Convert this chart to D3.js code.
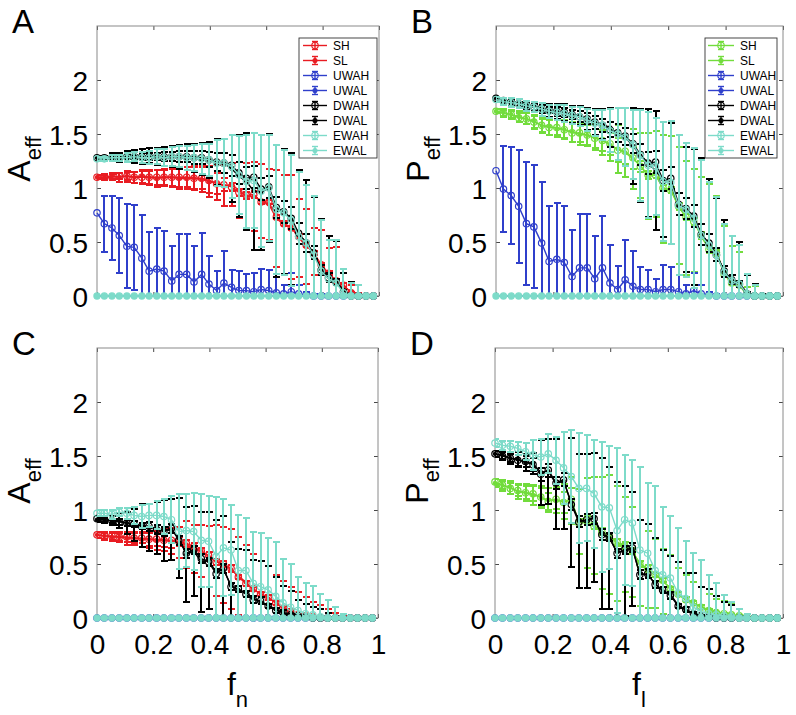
<!DOCTYPE html>
<html><head><meta charset="utf-8">
<script src="https://cdn.jsdelivr.net/npm/d3@7"></script>
<style>
body{margin:0;background:#fff}
svg{display:block}
text{font-family:"Liberation Sans",Arial,Helvetica,sans-serif;fill:#000}
</style>
</head><body>
<svg id="chart" width="796" height="715"></svg>
<script>
// ---------- shared x grid and ticks ----------
const fx = [0,0.026,0.053,0.079,0.106,0.132,0.159,0.185,0.212,0.238,0.265,0.291,0.318,0.344,0.371,0.397,0.424,0.450,0.477,0.503,0.530,0.556,0.582,0.609,0.636,0.662,0.689,0.715,0.742,0.768,0.795,0.821,0.848,0.874,0.901,0.927,0.954,0.980];
const zeros = [0,0,0,0,0,0,0,0,0,0,0,0,0,0,0,0,0,0,0,0,0,0,0,0,0,0,0,0,0,0,0,0,0,0,0,0,0,0];
const yTicks = [0,0.5,1,1.5,2];
const yTickLabels = ["0","0.5","1","1.5","2"];
const xTicks = [0,0.2,0.4,0.6,0.8,1];
const xTickLabels = ["0","0.2","0.4","0.6","0.8","1"];
const seriesNames = ["SH","SL","UWAH","UWAL","DWAH","DWAL","EWAH","EWAL"];

// ---------- Panel A (A_eff vs f_n) ----------
const A_SH     = [1.10,1.10,1.10,1.11,1.11,1.10,1.10,1.10,1.10,1.10,1.10,1.10,1.10,1.09,1.09,1.07,1.04,1.03,1.01,0.96,0.93,0.94,0.87,0.87,0.73,0.67,0.63,0.55,0.47,0.40,0.29,0.21,0.14,0.10,0.03,0,0,0];
const A_SH_err = [0.02,0.02,0.03,0.03,0.04,0.05,0.06,0.06,0.07,0.07,0.08,0.09,0.09,0.10,0.10,0.12,0.10,0.06,0.04,0.03,0.03,0.03,0.02,0.02,0.02,0.02,0.02,0.02,0.02,0.02,0.02,0.02,0.02,0.02,0.01,0,0,0];
const A_SL     = [1.10,1.10,1.11,1.10,1.11,1.10,1.11,1.10,1.09,1.10,1.10,1.09,1.09,1.09,1.08,1.06,1.05,1.02,1.03,0.98,0.92,0.92,0.88,0.85,0.72,0.66,0.64,0.54,0.46,0.41,0.28,0.20,0.15,0.09,0.04,0.01,0,0];
const A_SL_err = [0.02,0.03,0.03,0.04,0.05,0.05,0.06,0.07,0.08,0.08,0.09,0.10,0.10,0.11,0.12,0.14,0.16,0.19,0.20,0.26,0.31,0.32,0.34,0.33,0.45,0.46,0.48,0.36,0.35,0.22,0.33,0.24,0.30,0.12,0.06,0.02,0,0];
const A_UWAH     = [0.77,0.67,0.63,0.56,0.46,0.45,0.35,0.23,0.25,0.23,0.14,0.20,0.20,0.13,0.20,0.11,0.05,0.12,0.08,0.05,0.05,0.04,0.06,0.05,0.03,0.02,0.04,0.02,0.01,0,0,0,0,0,0,0,0,0];
const A_UWAH_err = [0,0.26,0.30,0.35,0.39,0.39,0.40,0.36,0.38,0.37,0.32,0.37,0.37,0.33,0.38,0.26,0.18,0.30,0.16,0.18,0.15,0.17,0.19,0.19,0.15,0.08,0.17,0.08,0.03,0.02,0.02,0,0,0,0,0,0,0];
const A_DWAH     = [1.28,1.28,1.28,1.29,1.29,1.29,1.29,1.29,1.29,1.29,1.29,1.29,1.29,1.28,1.28,1.26,1.24,1.23,1.21,1.14,1.09,1.10,0.99,1.01,0.82,0.78,0.72,0.58,0.49,0.40,0.24,0.17,0.13,0.04,0,0,0,0];
const A_DWAH_err = [0.01,0.01,0.01,0.02,0.02,0.02,0.03,0.03,0.03,0.04,0.04,0.05,0.05,0.06,0.06,0.07,0.08,0.09,0.10,0.10,0.10,0.10,0.10,0.10,0.10,0.10,0.10,0.10,0.08,0.06,0.05,0.04,0.03,0.02,0,0,0,0];
const A_DWAL     = [1.28,1.28,1.29,1.28,1.29,1.29,1.29,1.30,1.29,1.29,1.29,1.29,1.29,1.28,1.27,1.26,1.24,1.23,1.18,1.11,1.06,0.97,0.96,1.00,0.79,0.78,0.71,0.57,0.50,0.39,0.25,0.18,0.14,0.05,0.01,0,0,0];
const A_DWAL_err = [0.02,0.02,0.03,0.04,0.05,0.06,0.07,0.07,0.08,0.09,0.10,0.11,0.12,0.13,0.15,0.17,0.21,0.22,0.31,0.38,0.45,0.54,0.53,0.50,0.61,0.58,0.61,0.60,0.57,0.53,0.46,0.38,0.37,0.16,0.12,0.02,0,0];
const A_EWAH     = [1.27,1.27,1.28,1.28,1.28,1.29,1.28,1.28,1.29,1.28,1.29,1.29,1.28,1.28,1.27,1.26,1.23,1.23,1.20,1.12,1.06,1.07,0.97,1.00,0.80,0.77,0.70,0.55,0.49,0.38,0.23,0.16,0.12,0.03,0,0,0,0];
const A_EWAH_err = [0.02,0.02,0.03,0.03,0.04,0.04,0.05,0.06,0.07,0.08,0.09,0.10,0.11,0.12,0.14,0.15,0.21,0.22,0.29,0.36,0.43,0.44,0.52,0.49,0.60,0.58,0.61,0.60,0.54,0.55,0.47,0.36,0.40,0.22,0.12,0.10,0,0];

// ---------- Panel B (P_eff vs f_n) ----------
const B_SH     = [1.71,1.69,1.68,1.65,1.64,1.61,1.58,1.56,1.56,1.54,1.51,1.51,1.49,1.46,1.44,1.41,1.35,1.34,1.28,1.20,1.12,1.12,1.00,0.98,0.83,0.73,0.69,0.56,0.43,0.40,0.20,0.12,0.10,0.01,0,0,0,0];
const B_SH_err = [0.02,0.03,0.03,0.04,0.05,0.06,0.06,0.07,0.07,0.08,0.08,0.08,0.09,0.09,0.10,0.10,0.11,0.12,0.10,0.05,0.04,0.03,0.03,0.03,0.03,0.03,0.03,0.03,0.03,0.03,0.02,0.02,0.02,0.01,0,0,0,0];
const B_SL     = [1.71,1.70,1.68,1.66,1.64,1.62,1.58,1.57,1.55,1.54,1.52,1.50,1.49,1.47,1.44,1.40,1.36,1.33,1.27,1.21,1.11,1.13,0.99,0.98,0.84,0.72,0.70,0.55,0.44,0.41,0.21,0.12,0.11,0.02,0.01,0,0,0];
const B_SL_err = [0.02,0.03,0.04,0.05,0.05,0.06,0.07,0.08,0.08,0.09,0.09,0.10,0.10,0.12,0.13,0.15,0.22,0.23,0.28,0.30,0.40,0.40,0.50,0.50,0.54,0.53,0.48,0.55,0.60,0.52,0.44,0.34,0.30,0.06,0.08,0,0,0];
const B_UWAH     = [1.16,0.99,0.93,0.83,0.67,0.64,0.49,0.32,0.34,0.31,0.18,0.26,0.26,0.16,0.26,0.12,0.06,0.15,0.09,0.06,0.06,0.04,0.06,0.06,0.04,0.02,0.05,0.02,0.01,0,0,0,0,0,0,0,0,0];
const B_UWAH_err = [0,0.40,0.45,0.52,0.57,0.57,0.57,0.51,0.52,0.52,0.43,0.50,0.50,0.40,0.48,0.35,0.22,0.37,0.33,0.21,0.18,0.12,0.23,0.21,0.15,0.08,0.16,0.08,0.03,0.02,0.01,0,0,0,0,0,0,0];
const B_DWAH     = [1.83,1.81,1.80,1.78,1.77,1.75,1.74,1.72,1.71,1.70,1.68,1.66,1.64,1.61,1.58,1.54,1.51,1.48,1.41,1.31,1.23,1.24,1.07,1.09,0.85,0.81,0.74,0.57,0.49,0.38,0.23,0.15,0.11,0.02,0,0,0,0];
const B_DWAH_err = [0.01,0.01,0.02,0.02,0.02,0.03,0.03,0.03,0.04,0.04,0.04,0.05,0.05,0.06,0.06,0.07,0.08,0.08,0.09,0.10,0.10,0.10,0.10,0.10,0.10,0.10,0.10,0.10,0.08,0.06,0.05,0.04,0.03,0.02,0,0,0,0];
const B_DWAL     = [1.83,1.81,1.80,1.79,1.77,1.76,1.74,1.72,1.71,1.70,1.68,1.67,1.64,1.61,1.59,1.56,1.50,1.47,1.39,1.30,1.23,1.16,1.08,1.04,0.84,0.80,0.73,0.58,0.48,0.39,0.23,0.15,0.12,0.03,0.01,0,0,0];
const B_DWAL_err = [0.01,0.02,0.03,0.03,0.04,0.04,0.05,0.06,0.07,0.08,0.08,0.09,0.10,0.12,0.14,0.18,0.24,0.27,0.35,0.43,0.50,0.55,0.53,0.56,0.65,0.58,0.63,0.70,0.60,0.52,0.47,0.41,0.38,0.16,0.10,0.02,0,0];
const B_EWAH     = [1.82,1.80,1.79,1.78,1.76,1.75,1.73,1.71,1.70,1.69,1.67,1.66,1.63,1.60,1.58,1.53,1.50,1.47,1.40,1.30,1.21,1.20,1.06,1.05,0.84,0.80,0.72,0.56,0.47,0.38,0.22,0.14,0.11,0.02,0,0,0,0];
const B_EWAH_err = [0.02,0.03,0.04,0.04,0.05,0.05,0.06,0.06,0.07,0.08,0.08,0.09,0.10,0.12,0.14,0.20,0.24,0.27,0.32,0.42,0.49,0.45,0.55,0.57,0.65,0.62,0.65,0.70,0.59,0.54,0.45,0.42,0.36,0.18,0.10,0,0,0];

// ---------- Panel C (A_eff vs f_n) ----------
const C_SH     = [0.77,0.76,0.76,0.75,0.75,0.74,0.74,0.73,0.73,0.72,0.72,0.71,0.69,0.66,0.62,0.58,0.52,0.50,0.46,0.38,0.32,0.27,0.22,0.19,0.14,0.09,0.06,0.03,0.02,0.01,0,0,0,0,0,0,0,0];
const C_SH_err = [0.03,0.03,0.04,0.04,0.05,0.05,0.05,0.06,0.06,0.06,0.07,0.04,0.03,0.03,0.03,0.03,0.03,0.03,0.03,0.02,0.02,0.02,0.02,0.02,0.02,0.02,0.02,0.01,0.01,0.01,0,0,0,0,0,0,0,0];
const C_SL     = [0.77,0.76,0.75,0.75,0.74,0.74,0.73,0.73,0.72,0.72,0.71,0.70,0.68,0.64,0.62,0.57,0.53,0.49,0.45,0.39,0.33,0.26,0.23,0.18,0.15,0.10,0.07,0.04,0.02,0.01,0,0,0,0,0,0,0,0];
const C_SL_err = [0.03,0.04,0.04,0.05,0.06,0.06,0.07,0.08,0.09,0.10,0.12,0.14,0.22,0.22,0.24,0.28,0.33,0.35,0.37,0.36,0.35,0.33,0.30,0.30,0.25,0.24,0.22,0.20,0.17,0.14,0.12,0.08,0.05,0.02,0,0,0,0];
const C_DWAH     = [0.92,0.91,0.90,0.89,0.88,0.87,0.85,0.85,0.82,0.80,0.83,0.72,0.60,0.63,0.55,0.52,0.41,0.46,0.29,0.27,0.22,0.17,0.16,0.11,0.07,0.05,0.03,0.02,0.01,0,0,0,0,0,0,0,0,0];
const C_DWAH_err = [0.02,0.02,0.02,0.03,0.03,0.03,0.03,0.04,0.04,0.04,0.04,0.04,0.04,0.04,0.04,0.04,0.04,0.04,0.03,0.03,0.03,0.03,0.03,0.02,0.02,0.02,0.01,0.01,0.01,0,0,0,0,0,0,0,0,0];
const C_DWAL     = [0.91,0.91,0.90,0.90,0.88,0.86,0.86,0.84,0.83,0.81,0.82,0.74,0.59,0.62,0.52,0.53,0.43,0.45,0.30,0.26,0.24,0.18,0.15,0.12,0.08,0.05,0.03,0.02,0.01,0,0,0,0,0,0,0,0,0];
const C_DWAL_err = [0.02,0.03,0.04,0.07,0.10,0.15,0.20,0.22,0.24,0.28,0.28,0.37,0.44,0.42,0.46,0.45,0.48,0.49,0.40,0.38,0.39,0.36,0.38,0.36,0.30,0.25,0.22,0.15,0.12,0.10,0.08,0.05,0.02,0,0,0,0,0];
const C_EWAH     = [0.97,0.97,0.96,0.98,0.97,0.95,0.94,0.95,0.95,0.94,0.91,0.80,0.81,0.80,0.72,0.71,0.57,0.65,0.63,0.44,0.44,0.32,0.29,0.26,0.20,0.14,0.10,0.07,0.04,0.03,0.01,0,0,0,0,0,0,0];
const C_EWAH_err = [0.03,0.03,0.04,0.04,0.05,0.08,0.11,0.11,0.13,0.16,0.22,0.35,0.34,0.36,0.43,0.42,0.55,0.45,0.42,0.51,0.49,0.48,0.50,0.48,0.50,0.41,0.40,0.31,0.28,0.27,0.21,0.17,0.10,0.04,0,0,0,0];

// ---------- Panel D (P_eff vs f_l) ----------
const D_SH     = [1.26,1.23,1.20,1.18,1.16,1.15,1.12,1.08,1.10,1.07,1.10,0.88,0.90,0.85,0.80,0.76,0.70,0.67,0.62,0.50,0.46,0.40,0.35,0.27,0.22,0.17,0.14,0.10,0.07,0.05,0.04,0.03,0.02,0.01,0,0,0,0];
const D_SH_err = [0.03,0.04,0.05,0.05,0.06,0.07,0.08,0.08,0.09,0.10,0.10,0.04,0.04,0.03,0.03,0.03,0.03,0.03,0.03,0.03,0.03,0.02,0.02,0.02,0.02,0.02,0.02,0.02,0.01,0.01,0.01,0.01,0.01,0,0,0,0,0];
const D_SL     = [1.25,1.23,1.21,1.17,1.16,1.14,1.12,1.09,1.09,1.08,1.09,0.89,0.88,0.86,0.79,0.77,0.69,0.68,0.61,0.51,0.45,0.41,0.34,0.28,0.21,0.18,0.13,0.11,0.07,0.06,0.04,0.03,0.02,0.01,0,0,0,0];
const D_SL_err = [0.04,0.05,0.06,0.07,0.08,0.09,0.10,0.11,0.12,0.16,0.22,0.30,0.42,0.45,0.52,0.55,0.53,0.44,0.42,0.40,0.36,0.32,0.30,0.30,0.25,0.22,0.20,0.18,0.15,0.12,0.12,0.10,0.06,0.03,0,0,0,0];
const D_DWAH     = [1.52,1.50,1.48,1.46,1.45,1.42,1.33,1.37,1.25,1.28,1.05,0.89,0.91,0.92,0.77,0.75,0.60,0.63,0.65,0.40,0.41,0.31,0.26,0.21,0.11,0.08,0.04,0.02,0.01,0,0,0,0,0,0,0,0,0];
const D_DWAH_err = [0.03,0.04,0.04,0.05,0.05,0.06,0.06,0.06,0.06,0.06,0.05,0.05,0.05,0.05,0.05,0.04,0.04,0.04,0.04,0.04,0.04,0.03,0.03,0.03,0.02,0.02,0.02,0.01,0.01,0,0,0,0,0,0,0,0,0];
const D_DWAL     = [1.52,1.51,1.48,1.47,1.44,1.43,1.35,1.36,1.24,1.27,1.07,0.90,0.90,0.93,0.78,0.74,0.61,0.62,0.64,0.41,0.40,0.32,0.25,0.22,0.12,0.07,0.05,0.02,0.01,0,0,0,0,0,0,0,0,0];
const D_DWAL_err = [0.03,0.04,0.05,0.07,0.08,0.10,0.30,0.30,0.42,0.45,0.60,0.62,0.62,0.60,0.70,0.66,0.65,0.60,0.53,0.50,0.47,0.42,0.38,0.35,0.40,0.35,0.37,0.27,0.26,0.20,0.15,0.12,0.08,0.04,0,0,0,0];
const D_EWAH     = [1.62,1.60,1.59,1.57,1.54,1.51,1.49,1.52,1.46,1.39,1.31,1.20,1.20,1.15,1.03,1.02,0.81,0.91,0.88,0.63,0.60,0.44,0.40,0.37,0.23,0.18,0.10,0.06,0.04,0.03,0.02,0.01,0,0,0,0,0,0];
const D_EWAH_err = [0.04,0.04,0.05,0.06,0.08,0.14,0.17,0.18,0.22,0.33,0.43,0.51,0.49,0.50,0.60,0.57,0.76,0.60,0.58,0.77,0.65,0.78,0.63,0.57,0.60,0.53,0.50,0.48,0.36,0.29,0.19,0.14,0.08,0.04,0,0,0,0];

// ---------- styling ----------
const RED = "#e81c22", GREEN = "#72dc3c", BLUE = "#2f3fcb", BLACK = "#000000", CYAN = "#7ddbc9";

const panels = [
  {letter:"A", box:{l:97,t:26,r:379,b:296}, sColor:RED, yTitle:["A","eff"], xTitle:null, xLabels:false,
   legend:{x:299,y:38,w:78,h:120,lx0:303,lx1:327,tx:333},
   series:[[A_SH,A_SH_err],[A_SL,A_SL_err],[A_UWAH,A_UWAH_err],[zeros,zeros],[A_DWAH,A_DWAH_err],[A_DWAL,A_DWAL_err],[A_EWAH,A_EWAH_err],[zeros,zeros]]},
  {letter:"B", box:{l:496,t:26,r:783,b:296}, sColor:GREEN, yTitle:["P","eff"], xTitle:null, xLabels:false,
   legend:{x:705,y:38,w:72,h:120,lx0:708,lx1:734,tx:740},
   series:[[B_SH,B_SH_err],[B_SL,B_SL_err],[B_UWAH,B_UWAH_err],[zeros,zeros],[B_DWAH,B_DWAH_err],[B_DWAL,B_DWAL_err],[B_EWAH,B_EWAH_err],[zeros,zeros]]},
  {letter:"C", box:{l:97,t:348,r:378,b:618}, sColor:RED, yTitle:["A","eff"], xTitle:["f","n"], xLabels:true,
   legend:null,
   series:[[C_SH,C_SH_err],[C_SL,C_SL_err],[zeros,zeros],[zeros,zeros],[C_DWAH,C_DWAH_err],[C_DWAL,C_DWAL_err],[C_EWAH,C_EWAH_err],[zeros,zeros]]},
  {letter:"D", box:{l:495,t:348,r:783,b:618}, sColor:GREEN, yTitle:["P","eff"], xTitle:["f","l"], xLabels:true,
   legend:null,
   series:[[D_SH,D_SH_err],[D_SL,D_SL_err],[zeros,zeros],[zeros,zeros],[D_DWAH,D_DWAH_err],[D_DWAL,D_DWAL_err],[D_EWAH,D_EWAH_err],[zeros,zeros]]}
];

const svg = d3.select("#chart");

function seriesStyle(p, k){
  const col = [p.sColor,p.sColor,BLUE,BLUE,BLACK,BLACK,CYAN,CYAN][k];
  const name = seriesNames[k];
  const isH = name.endsWith("H");
  const marker = isH ? {r:3.2, fill:"none"} : (name==="EWAL" ? {r:3.1, fill:col} : {r:1.6, fill:col});
  return {col, isH, marker};
}

panels.forEach((p, pi) => {
  const b = p.box;
  const x = d3.scaleLinear().domain([0,1]).range([b.l,b.r]);
  const y = d3.scaleLinear().domain([0,2.5]).range([b.b,b.t]);
  const g = svg.append("g");

  const clipId = "clip"+pi;
  g.append("clipPath").attr("id",clipId).append("rect")
    .attr("x",b.l).attr("y",b.t).attr("width",b.r-b.l).attr("height",b.b-b.t);

  // axes (ticks inward, box drawn separately)
  const axL = d3.axisLeft(y).tickValues(yTicks).tickSizeInner(-4).tickSizeOuter(0).tickPadding(9)
    .tickFormat((d,i) => yTickLabels[i]);
  const axR = d3.axisRight(y).tickValues(yTicks).tickSizeInner(-4).tickSizeOuter(0).tickFormat("");
  const axT = d3.axisTop(x).tickValues(xTicks).tickSizeInner(-4).tickSizeOuter(0).tickFormat("");
  const axB = d3.axisBottom(x).tickValues(xTicks).tickSizeInner(-4).tickSizeOuter(0).tickPadding(16)
    .tickFormat(p.xLabels ? ((d,i) => xTickLabels[i]) : "");

  const gl = g.append("g").attr("transform",`translate(${b.l},0)`).call(axL);
  const gr = g.append("g").attr("transform",`translate(${b.r},0)`).call(axR);
  const gt = g.append("g").attr("transform",`translate(0,${b.t})`).call(axT);
  const gb = g.append("g").attr("transform",`translate(0,${b.b})`).call(axB);
  [gl,gr,gt,gb].forEach(a => {
    a.select(".domain").remove();
    a.selectAll(".tick line").attr("stroke","#333").attr("stroke-width",0.9);
    a.selectAll(".tick text").attr("font-size",28).attr("fill","#000")
      .attr("font-family",'"Liberation Sans",Arial,Helvetica,sans-serif');
  });
  gl.selectAll(".tick text").attr("dy","0.36em");
  gb.selectAll(".tick text").attr("dy","0.71em");

  // box
  g.append("rect").attr("x",b.l).attr("y",b.t).attr("width",b.r-b.l).attr("height",b.b-b.t)
    .attr("fill","none").attr("stroke","#8a8a8a").attr("stroke-width",1);

  // series
  p.series.forEach((s, k) => {
    const [vals, errs] = s;
    const st = seriesStyle(p, k);
    const sg = g.append("g").attr("class","series-"+seriesNames[k]);
    const pts = fx.map((xv,i) => ({x:xv, v:vals[i], e:errs[i]}));

    // error bars (clipped to plotting area, pixel aligned so later series cover earlier ones)
    const eg = sg.append("g").attr("clip-path",`url(#${clipId})`)
      .attr("stroke",st.col).attr("stroke-width",1.5).attr("fill","none")
      .attr("shape-rendering","crispEdges");
    pts.filter(d => d.e > 0).forEach(d => {
      const cx = Math.round(x(d.x)), y1 = Math.round(y(d.v + d.e)), y0 = Math.round(y(d.v - d.e));
      eg.append("line").attr("x1",cx).attr("x2",cx).attr("y1",y1).attr("y2",y0);
      eg.append("line").attr("x1",cx-3).attr("x2",cx+4).attr("y1",y1).attr("y2",y1);
      eg.append("line").attr("x1",cx-3).attr("x2",cx+4).attr("y1",y0).attr("y2",y0);
    });

    // connecting line
    sg.append("path").datum(pts)
      .attr("d", d3.line().x(d => x(d.x)).y(d => y(d.v)))
      .attr("fill","none").attr("stroke",st.col).attr("stroke-width",1.4);

    // markers
    sg.selectAll("circle").data(pts).join("circle")
      .attr("cx",d => x(d.x)).attr("cy",d => y(d.v)).attr("r",st.marker.r)
      .attr("fill",st.marker.fill).attr("stroke",st.col).attr("stroke-width",1.2);
  });

  // legend
  if(p.legend){
    const L = p.legend;
    const lg = g.append("g");
    lg.append("rect").attr("x",L.x).attr("y",L.y).attr("width",L.w).attr("height",L.h)
      .attr("fill","#fff").attr("stroke","#333").attr("stroke-width",0.9);
    seriesNames.forEach((nm, k) => {
      const st = seriesStyle(p, k);
      const cy = L.y + 7.5 + 15*k;
      const cx = (L.lx0 + L.lx1)/2;
      lg.append("line").attr("x1",L.lx0).attr("x2",L.lx1).attr("y1",cy).attr("y2",cy)
        .attr("stroke",st.col).attr("stroke-width",1.4);
      lg.append("line").attr("x1",cx).attr("x2",cx).attr("y1",cy-4).attr("y2",cy+4)
        .attr("stroke",st.col).attr("stroke-width",1.4);
      lg.append("line").attr("x1",cx-3).attr("x2",cx+3).attr("y1",cy-4).attr("y2",cy-4)
        .attr("stroke",st.col).attr("stroke-width",1.4);
      lg.append("line").attr("x1",cx-3).attr("x2",cx+3).attr("y1",cy+4).attr("y2",cy+4)
        .attr("stroke",st.col).attr("stroke-width",1.4);
      lg.append("circle").attr("cx",cx).attr("cy",cy).attr("r", st.isH ? 3.2 : 2)
        .attr("fill", st.isH ? "none" : st.col).attr("stroke",st.col).attr("stroke-width",1.1);
      lg.append("text").attr("x",L.tx).attr("y",cy+4.3).attr("font-size",12).text(nm);
    });
  }

  // panel letter
  g.append("text").attr("x", b.l - 85).attr("y", b.t + 7).attr("font-size",33).text(p.letter);

  // y title
  const yt = g.append("text").attr("text-anchor","middle")
    .attr("transform",`translate(${b.l-67},${(b.t+b.b)/2 - 2}) rotate(-90)`);
  yt.append("tspan").attr("font-size",32).text(p.yTitle[0]);
  yt.append("tspan").attr("font-size",22).attr("dy",11).text(p.yTitle[1]);

  // x title
  if(p.xTitle){
    const xt = g.append("text").attr("text-anchor","middle")
      .attr("x",(b.l+b.r)/2).attr("y",b.b+77);
    xt.append("tspan").attr("font-size",32).text(p.xTitle[0]);
    xt.append("tspan").attr("font-size",22).attr("dy",12).text(p.xTitle[1]);
  }
});
</script>
</body></html>
